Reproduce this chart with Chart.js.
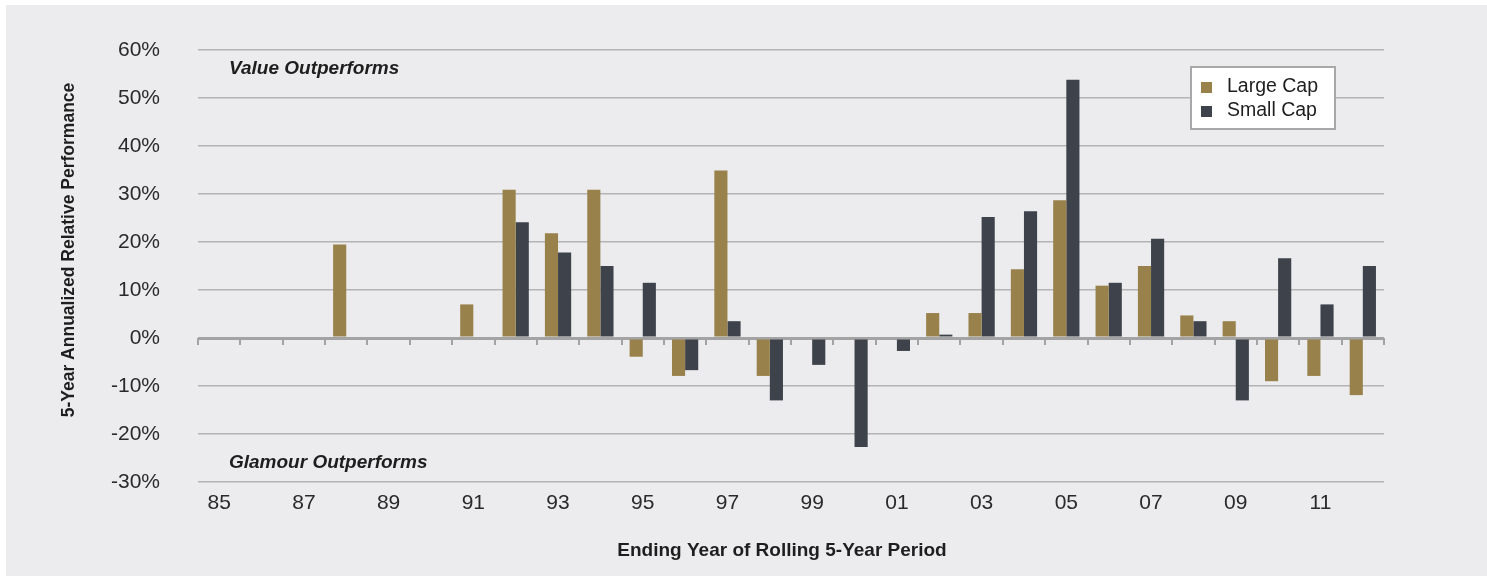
<!DOCTYPE html>
<html>
<head>
<meta charset="utf-8">
<script src="https://cdn.jsdelivr.net/npm/chart.js@4/dist/chart.umd.min.js"></script>
<style>
  html, body { margin: 0; padding: 0; background: #ffffff; }
  #wrap { position: absolute; left: 6px; top: 5px; width: 1481px; height: 571px; background: #ececee; }
</style>
</head>
<body>
<div id="wrap"><canvas id="myChart" width="1481" height="571"></canvas></div>
<script>
// data
const years = ['85','86','87','88','89','90','91','92','93','94','95','96','97','98',
               '99','00','01','02','03','04','05','06','07','08','09','10','11','12'];
const largeCap = [0, 0, 0, 19.5, 0, 0, 7.0, 30.9, 21.8, 30.9, -3.9, -7.9, 34.9, -7.9,
                  0, 0, 0, 5.2, 5.2, 14.3, 28.7, 10.9, 15.0, 4.7, 3.5, -9.0, -7.9, -11.9];
const smallCap = [0, 0, 0, 0, 0, 0, 0, 24.1, 17.8, 15.0, 11.5, -6.7, 3.5, -13.0,
                  -5.6, -22.7, -2.7, 0.7, 25.2, 26.4, 53.8, 11.5, 20.7, 3.5, -13.0, 16.6, 7.0, 15.0];
const seriesNames = ['Large Cap', 'Small Cap'];
const seriesColors = ['#98814a', '#3d424b'];
const yTicks = { min: -30, max: 60, step: 10 };

const FONT = '"Liberation Sans", Arial, sans-serif';

// zero line tick marks, titles, notes and the boxed legend
const extras = {
  id: 'extras',
  beforeDatasetsDraw(chart) {
    const { ctx, scales: { x, y } } = chart;
    const y0 = y.getPixelForValue(0);
    const n = years.length;
    ctx.save();
    ctx.strokeStyle = '#a3a3a3';
    ctx.lineWidth = 2;
    for (let i = 0; i <= n; i++) {
      const px = Math.round(x.left + i * x.width / n);
      ctx.beginPath();
      ctx.moveTo(px, y0);
      ctx.lineTo(px, y0 + 7);
      ctx.stroke();
    }
    ctx.restore();
  },
  afterDraw(chart) {
    const { ctx, chartArea: a } = chart;
    ctx.save();
    ctx.fillStyle = '#1e1e1e';
    ctx.textBaseline = 'middle';

    // notes
    ctx.font = 'italic bold 19px ' + FONT;
    ctx.textAlign = 'left';
    ctx.fillText('Value Outperforms', a.left + 31, a.top + 19);
    ctx.fillText('Glamour Outperforms', a.left + 31, a.bottom - 19);

    // axis titles
    ctx.font = 'bold 19px ' + FONT;
    ctx.textAlign = 'center';
    ctx.fillText('Ending Year of Rolling 5-Year Period', 776, 546);
    ctx.font = 'bold 17.5px ' + FONT;
    ctx.save();
    ctx.translate(63, 245);
    ctx.rotate(-Math.PI / 2);
    ctx.fillText('5-Year Annualized Relative Performance', 0, 0);
    ctx.restore();

    // legend
    const bx = 1185, by = 62, bw = 144, bh = 62;
    ctx.fillStyle = '#ffffff';
    ctx.fillRect(bx, by, bw, bh);
    ctx.strokeStyle = '#a8a8a8';
    ctx.lineWidth = 2;
    ctx.strokeRect(bx, by, bw, bh);
    ctx.font = '19.5px ' + FONT;
    ctx.textAlign = 'left';
    chart.data.datasets.forEach((ds, i) => {
      const cy = by + 20 + i * 24;
      ctx.fillStyle = ds.backgroundColor;
      ctx.fillRect(bx + 10, cy - 5, 11, 11);
      ctx.fillStyle = '#1e1e1e';
      ctx.fillText(ds.label, bx + 36, cy);
    });
    ctx.restore();
  }
};

const ctx = document.getElementById('myChart').getContext('2d');
const myChart = new Chart(ctx, {
  type: 'bar',
  data: {
    labels: years,
    datasets: [
      { label: seriesNames[0], data: largeCap, backgroundColor: seriesColors[0] },
      { label: seriesNames[1], data: smallCap, backgroundColor: seriesColors[1] }
    ]
  },
  options: {
    responsive: false,
    animation: false,
    categoryPercentage: 0.62,
    barPercentage: 1.0,
    layout: { padding: { left: 0, top: 45, right: 103, bottom: 0 } },
    plugins: {
      legend: { display: false },
      tooltip: { enabled: false }
    },
    scales: {
      x: {
        grid: { display: false, drawTicks: false },
        border: { display: false },
        ticks: {
          autoSkip: false,
          maxRotation: 0,
          padding: 9,
          color: '#2a2a2a',
          font: { family: FONT, size: 21 },
          callback: (v, i) => (i % 2 === 0 ? years[i] : '')
        },
        afterFit(scale) { scale.height = 94; }
      },
      y: {
        min: yTicks.min,
        max: yTicks.max,
        grid: {
          drawTicks: false,
          color: c => (c.tick.value === 0 ? '#a3a3a3' : '#b4b4b4'),
          lineWidth: c => (c.tick.value === 0 ? 3 : 1.5)
        },
        border: { display: false },
        ticks: {
          stepSize: yTicks.step,
          padding: 38,
          color: '#2a2a2a',
          font: { family: FONT, size: 21 },
          callback: v => v + '%'
        },
        afterFit(scale) {
          scale.width = 192;
          scale.paddingTop = 12;
          scale.paddingBottom = 12;
        }
      }
    }
  },
  plugins: [extras]
});
</script>
</body>
</html>
